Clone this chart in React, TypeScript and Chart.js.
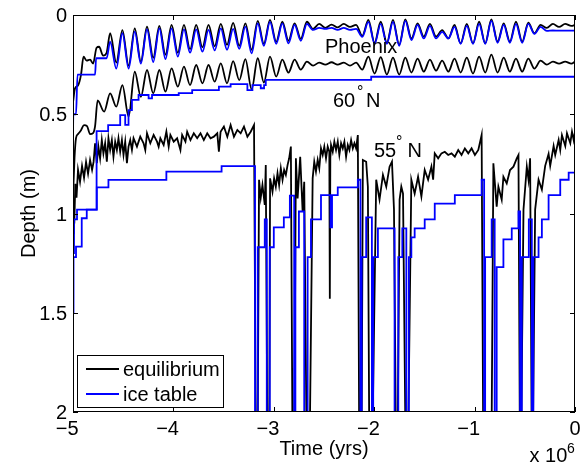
import React, { useEffect, useRef } from 'react';
import { Chart, registerables } from 'chart.js';

Chart.register(...registerables);

const FONT = "'Liberation Sans', Arial, Helvetica, sans-serif";

// ---- axes ----
const xTickValues = [-5, -4, -3, -2, -1, 0];
const xTickLabels = ['\u22125', '\u22124', '\u22123', '\u22122', '\u22121', '0'];
const yTickValues = [0, 0.5, 1, 1.5, 2];
const yTickLabels = ['0', '0.5', '1', '1.5', '2'];

// ---- shared time samples (x 10^6 yrs) for the oscillating curves ----
const gridTime = [
  -4.630, -4.569, -4.508, -4.446, -4.385, -4.324, -4.263, -4.201, -4.140, -4.079,
  -4.018, -3.956, -3.895, -3.834, -3.773, -3.711, -3.650, -3.589, -3.528, -3.466,
  -3.405, -3.344, -3.283, -3.221, -3.160, -3.099, -3.038, -2.976, -2.915, -2.854,
  -2.793, -2.731, -2.670, -2.609, -2.548, -2.486, -2.425, -2.364, -2.303, -2.241,
  -2.180, -2.119, -2.058, -1.996, -1.935, -1.874, -1.813, -1.751, -1.690, -1.629,
  -1.568, -1.506, -1.445, -1.384, -1.323, -1.261, -1.200, -1.139, -1.078, -1.016,
  -0.955, -0.894, -0.833, -0.771, -0.710, -0.649, -0.588, -0.526, -0.465, -0.404,
  -0.343, -0.281, -0.220, -0.159, -0.098, -0.036, 0.000,
];

// ---- Phoenix ----
const phoenixEqPreTime = [-5.0, -4.98, -4.95, -4.92, -4.895, -4.865, -4.83, -4.80, -4.765, -4.74, -4.70, -4.665];
const phoenixEqPreDepth = [0.44, 0.37, 0.355, 0.30, 0.21, 0.23, 0.225, 0.245, 0.165, 0.16, 0.205, 0.19];
const phoenixEqDepth = [
  0.092, 0.24, 0.076, 0.255, 0.067, 0.235, 0.059, 0.215, 0.055, 0.20,
  0.05, 0.19, 0.05, 0.172, 0.05, 0.163, 0.05, 0.158, 0.045, 0.15,
  0.04, 0.155, 0.042, 0.175, 0.03, 0.145, 0.025, 0.135, 0.034, 0.13,
  0.042, 0.12, 0.034, 0.07, 0.045, 0.065, 0.048, 0.062, 0.045, 0.06,
  0.05, 0.105, 0.025, 0.14, 0.034, 0.14, 0.025, 0.15, 0.022, 0.118,
  0.042, 0.109, 0.045, 0.109, 0.076, 0.118, 0.05, 0.143, 0.045, 0.143,
  0.034, 0.143, 0.022, 0.134, 0.042, 0.134, 0.034, 0.134, 0.039, 0.092,
  0.05, 0.065, 0.045, 0.06, 0.045, 0.055, 0.05,
];
const phoenixIcePreTime = [-5.0, -4.997, -4.97, -4.955, -4.78, -4.77, -4.665];
const phoenixIcePreDepth = [0.60, 0.50, 0.50, 0.30, 0.30, 0.218, 0.218];
const phoenixIceDepth = [
  0.134, 0.27, 0.092, 0.27, 0.084, 0.245, 0.072, 0.237, 0.067, 0.222,
  0.067, 0.21, 0.072, 0.19, 0.072, 0.185, 0.075, 0.178, 0.067, 0.175,
  0.07, 0.17, 0.059, 0.193, 0.042, 0.155, 0.035, 0.145, 0.042, 0.143,
  0.05, 0.13, 0.045, 0.075, 0.065, 0.07, 0.065, 0.075, 0.065, 0.075,
  0.07, 0.11, 0.035, 0.145, 0.045, 0.145, 0.035, 0.155, 0.03, 0.126,
  0.05, 0.118, 0.055, 0.118, 0.085, 0.118, 0.06, 0.145, 0.055, 0.145,
  0.045, 0.145, 0.03, 0.14, 0.05, 0.14, 0.045, 0.14, 0.045, 0.095,
  0.06, 0.08, 0.078, 0.079, 0.079, 0.079, 0.078,
];

// ---- 60 N ----
const n60EqPreTime = [-5.0, -4.985, -4.97, -4.95, -4.92, -4.89, -4.86, -4.83, -4.80, -4.78, -4.755, -4.69];
const n60EqPreDepth = [0.92, 0.72, 0.62, 0.60, 0.58, 0.555, 0.56, 0.60, 0.595, 0.56, 0.43, 0.487];
const n60EqDepth = [
  0.395, 0.462, 0.353, 0.512, 0.286, 0.412, 0.277, 0.395, 0.277, 0.386,
  0.269, 0.361, 0.26, 0.353, 0.252, 0.344, 0.252, 0.336, 0.244, 0.344,
  0.232, 0.328, 0.222, 0.375, 0.218, 0.34, 0.21, 0.31, 0.225, 0.29,
  0.225, 0.275, 0.235, 0.255, 0.24, 0.25, 0.238, 0.25, 0.24, 0.255,
  0.24, 0.275, 0.21, 0.295, 0.212, 0.3, 0.215, 0.3, 0.215, 0.29,
  0.22, 0.285, 0.225, 0.28, 0.23, 0.285, 0.22, 0.29, 0.215, 0.295,
  0.21, 0.29, 0.2, 0.29, 0.215, 0.285, 0.22, 0.285, 0.22, 0.27,
  0.23, 0.25, 0.235, 0.245, 0.235, 0.245, 0.235,
];
const n60IceTime = [
  -5.0, -4.99, -4.96, -4.765, -4.65, -4.53, -4.48, -4.447, -4.413, -4.347,
  -4.247, -4.213, -3.947, -3.813, -3.547, -3.43, -3.263, -3.213, -3.13, -3.097,
  -3.08, -2.03, 0.0,
];
const n60IceDepth = [
  1.2, 1.03, 0.98, 0.585, 0.555, 0.504, 0.554, 0.479, 0.428, 0.403,
  0.42, 0.403, 0.394, 0.378, 0.361, 0.348, 0.378, 0.353, 0.369, 0.353,
  0.327, 0.311, 0.311,
];

// ---- 55 N ----
const n55EqTime = [
  -5.0, -4.993, -4.987, -4.977, -4.965, -4.95, -4.93, -4.91, -4.89, -4.87, -4.85, -4.83, -4.81, -4.795,
  -4.78, -4.763, -4.747, -4.73, -4.713, -4.697, -4.68, -4.663, -4.647, -4.63, -4.613, -4.597, -4.58,
  -4.563, -4.547, -4.53, -4.513, -4.497, -4.48, -4.463, -4.447, -4.43, -4.413, -4.397, -4.363, -4.33,
  -4.297, -4.28, -4.263, -4.23, -4.197, -4.163, -4.147, -4.13, -4.097, -4.07, -4.047, -4.03, -3.997,
  -3.963, -3.93, -3.913, -3.88, -3.863, -3.83, -3.797, -3.763, -3.73, -3.697, -3.663, -3.63, -3.597,
  -3.563, -3.547, -3.53, -3.497, -3.463, -3.43, -3.397, -3.363, -3.33, -3.297, -3.263, -3.23, -3.197,
  -3.18, -3.16, -3.147, -3.13, -3.113, -3.09, -3.08, -3.065,
  -3.045, -3.037, -3.013, -2.997, -2.98, -2.963, -2.947, -2.93, -2.913, -2.897, -2.88, -2.863, -2.847, -2.83, -2.815,
  -2.795, -2.78, -2.763, -2.737, -2.713, -2.697, -2.675,
  -2.64, -2.613, -2.597, -2.58, -2.563, -2.547, -2.53, -2.513, -2.497, -2.48, -2.463, -2.447, -2.442, -2.437,
  -2.43, -2.413, -2.397, -2.38, -2.363, -2.347, -2.33, -2.313, -2.297, -2.28, -2.263, -2.247, -2.23, -2.213,
  -2.197, -2.18, -2.163, -2.15,
  -2.125, -2.113, -2.08, -2.063, -2.05,
  -2.015, -1.98, -1.947, -1.913, -1.88, -1.847, -1.823, -1.803, -1.785,
  -1.765, -1.747, -1.73, -1.713, -1.69,
  -1.66, -1.63, -1.597, -1.563, -1.53, -1.497, -1.463, -1.43, -1.413, -1.397, -1.363, -1.33, -1.297, -1.263,
  -1.23, -1.197, -1.163, -1.13, -1.097, -1.063, -1.03, -0.997, -0.963, -0.93, -0.915,
  -0.83, -0.813, -0.78, -0.763, -0.73, -0.713, -0.68, -0.647, -0.613, -0.58, -0.563, -0.55,
  -0.535, -0.513, -0.48, -0.463, -0.447, -0.432,
  -0.418, -0.397, -0.363, -0.33, -0.297, -0.263, -0.247, -0.213, -0.197, -0.163, -0.147, -0.13, -0.097,
  -0.08, -0.047, -0.03, -0.013, 0.0,
];
const n55EqDepth = [
  1.1, 0.95, 1.05, 0.85, 0.92, 0.78, 0.84, 0.76, 0.82, 0.74, 0.80, 0.73, 0.78, 0.74,
  0.646, 0.747, 0.663, 0.722, 0.63, 0.697, 0.646, 0.739, 0.621, 0.68, 0.63, 0.714, 0.638,
  0.68, 0.621, 0.688, 0.63, 0.705, 0.638, 0.747, 0.663, 0.63, 0.68, 0.621, 0.663, 0.613,
  0.646, 0.68, 0.596, 0.646, 0.604, 0.638, 0.663, 0.621, 0.655, 0.588, 0.663, 0.604, 0.638,
  0.621, 0.68, 0.604, 0.638, 0.588, 0.63, 0.596, 0.621, 0.596, 0.63, 0.596, 0.621, 0.613,
  0.596, 0.688, 0.588, 0.562, 0.613, 0.554, 0.613, 0.579, 0.596, 0.562, 0.613, 0.588, 0.554,
  2.05, 2.05, 0.83, 0.92, 0.856, 0.957, 0.756, 2.05,
  2.05, 0.823, 0.89, 0.823, 0.865, 0.798, 0.856, 0.772, 0.831, 0.781, 0.806, 0.756, 0.722, 0.663, 2.05,
  2.05, 0.722, 0.924, 0.714, 0.99, 0.84, 2.05,
  2.05, 0.823, 0.739, 0.789, 0.73, 0.772, 0.672, 0.705, 0.663, 0.722, 0.663, 0.689, 1.43, 0.72,
  0.655, 0.689, 0.638, 0.68, 0.638, 0.705, 0.646, 0.672, 0.638, 0.714, 0.655, 0.68, 0.63, 0.672,
  0.646, 0.672, 0.605, 2.05,
  2.05, 0.73, 0.739, 0.865, 2.05,
  2.05, 0.83, 0.93, 0.806, 0.865, 0.764, 0.739, 0.98, 2.05,
  2.05, 0.93, 0.865, 0.9, 2.05,
  2.05, 0.83, 0.9, 0.815, 0.915, 0.781, 0.83, 0.764, 0.83, 0.697, 0.722, 0.697, 0.689, 0.705,
  0.697, 0.714, 0.68, 0.705, 0.672, 0.697, 0.672, 0.705, 0.68, 0.605, 2.05,
  2.05, 0.747, 0.966, 0.865, 0.93, 0.815, 0.848, 0.781, 0.764, 0.722, 0.705, 2.05,
  2.05, 0.98, 0.764, 0.83, 0.722, 2.05,
  2.05, 0.98, 0.83, 0.88, 0.76, 0.70, 0.76, 0.66, 0.705, 0.63, 0.68, 0.605, 0.66,
  0.596, 0.646, 0.588, 0.63, 0.59,
];
const n55IceTime = [
  -5.0, -4.995, -4.97, -4.913, -4.863, -4.763, -4.647, -4.07, -3.52, -3.187,
  -3.16, -3.09, -3.07, -3.04, -3.0, -2.90, -2.84, -2.797, -2.785, -2.75,
  -2.697, -2.663, -2.63, -2.53, -2.435, -2.42, -2.363, -2.163, -2.137, -2.125,
  -2.08, -2.023, -2.01, -1.963, -1.797, -1.76, -1.72, -1.68, -1.655, -1.63,
  -1.597, -1.497, -1.397, -1.197, -0.93, -0.905, -0.895, -0.83, -0.80, -0.78,
  -0.713, -0.63, -0.563, -0.547, -0.53, -0.46, -0.43, -0.415, -0.363, -0.33,
  -0.263, -0.147, -0.063, 0.0,
];
const n55IceDepth = [
  1.5, 1.22, 1.167, 1.024, 0.98, 0.868, 0.831, 0.789, 0.761, 2.05,
  1.17, 1.03, 2.05, 1.17, 1.07, 1.02, 0.91, 2.05, 1.17, 0.99,
  2.05, 1.22, 1.03, 0.907, 1.07, 0.907, 0.868, 0.83, 2.05, 1.22,
  1.02, 2.05, 1.22, 1.075, 2.05, 1.22, 1.075, 2.05, 1.22, 1.12,
  1.075, 1.03, 0.95, 0.907, 0.83, 2.05, 1.22, 1.03, 2.05, 1.27,
  1.13, 1.075, 0.99, 2.05, 1.22, 1.03, 2.05, 1.22, 1.12, 1.03,
  0.907, 0.83, 0.794, 0.794,
];

const legendLabels = ['equilibrium', 'ice table'];
const seriesColors = { eq: '#000000', ice: '#0000ff' };

function toPoints(ts: number[], ds: number[]) {
  return ts.map((t, i) => ({ x: t, y: ds[i] }));
}

const overlayPlugin = {
  id: 'overlay',
  afterDatasetsDraw(chart: any) {
    const { ctx, chartArea: a, scales } = chart;
    const xs = scales.x;
    const ys = scales.y;
    ctx.save();
    ctx.strokeStyle = '#000';
    ctx.lineWidth = 1;
    ctx.strokeRect(a.left + 0.5, a.top + 0.5, a.right - a.left - 1, a.bottom - a.top - 1);
    const tl = 5;
    ctx.beginPath();
    xTickValues.forEach((v) => {
      const px = Math.round(xs.getPixelForValue(v)) + 0.5;
      ctx.moveTo(px, a.bottom);
      ctx.lineTo(px, a.bottom - tl);
      ctx.moveTo(px, a.top);
      ctx.lineTo(px, a.top + tl);
    });
    yTickValues.forEach((v) => {
      const py = Math.round(ys.getPixelForValue(v)) + 0.5;
      ctx.moveTo(a.left, py);
      ctx.lineTo(a.left + tl, py);
      ctx.moveTo(a.right, py);
      ctx.lineTo(a.right - tl, py);
    });
    ctx.stroke();

    ctx.fillStyle = '#000';
    ctx.font = `20px ${FONT}`;
    ctx.textBaseline = 'alphabetic';
    xTickValues.forEach((v, i) => {
      const px = xs.getPixelForValue(v);
      const lab = xTickLabels[i];
      const w = ctx.measureText(lab.replace('\u2212', '')).width;
      ctx.textAlign = 'right';
      ctx.fillText(lab, px + w / 2, a.bottom + 23);
    });
    ctx.textAlign = 'right';
    yTickValues.forEach((v, i) => {
      const py = ys.getPixelForValue(v);
      ctx.fillText(yTickLabels[i], a.left - 6, py + 7);
    });
    ctx.textAlign = 'center';
    ctx.fillText('Time (yrs)', (a.left + a.right) / 2, 455);
    ctx.save();
    ctx.translate(35, (a.top + a.bottom) / 2);
    ctx.rotate(-Math.PI / 2);
    ctx.fillText('Depth (m)', 0, 0);
    ctx.restore();
    ctx.textAlign = 'left';
    ctx.fillText('x 10', 529.5, 462);
    ctx.font = `14px ${FONT}`;
    ctx.fillText('6', 567, 453);

    ctx.font = `20px ${FONT}`;
    ctx.fillText('Phoenix', 325, 53);
    ctx.fillText('60', 333, 107);
    ctx.fillText('N', 366, 107);
    ctx.fillText('55', 374, 157);
    ctx.fillText('N', 407.5, 157);
    ctx.font = `16px ${FONT}`;
    ctx.fillText('\u00b0', 357, 97);
    ctx.fillText('\u00b0', 396, 147);

    const lx = 77.5, ly = 355.5, lw = 146, lh = 52;
    ctx.fillStyle = '#fff';
    ctx.fillRect(lx, ly, lw, lh);
    ctx.strokeStyle = '#000';
    ctx.lineWidth = 1;
    ctx.strokeRect(lx, ly, lw, lh);
    const rows = [369, 394];
    const cols = [seriesColors.eq, seriesColors.ice];
    rows.forEach((ry, i) => {
      ctx.strokeStyle = cols[i];
      ctx.lineWidth = 1.8;
      ctx.beginPath();
      ctx.moveTo(86, ry);
      ctx.lineTo(119, ry);
      ctx.stroke();
      ctx.fillStyle = '#000';
      ctx.font = `20px ${FONT}`;
      ctx.textAlign = 'left';
      ctx.fillText(legendLabels[i], 123, ry + 7);
    });
    ctx.restore();
  },
};

export default function App() {
  const canvasRef = useRef<HTMLCanvasElement | null>(null);

  useEffect(() => {
    const canvas = canvasRef.current;
    if (!canvas) return;
    const lineBase = {
      pointRadius: 0,
      borderWidth: 1.8,
      fill: false,
    };
    const chart = new Chart(canvas, {
      type: 'line',
      data: {
        datasets: [
          {
            ...lineBase,
            label: 'Phoenix ice table',
            borderColor: seriesColors.ice,
            cubicInterpolationMode: 'monotone',
            data: toPoints([...phoenixIcePreTime, ...gridTime], [...phoenixIcePreDepth, ...phoenixIceDepth]),
          },
          {
            ...lineBase,
            label: '60N ice table',
            borderColor: seriesColors.ice,
            stepped: 'before',
            data: toPoints(n60IceTime, n60IceDepth),
          },
          {
            ...lineBase,
            label: '55N ice table',
            borderColor: seriesColors.ice,
            stepped: 'before',
            data: toPoints(n55IceTime, n55IceDepth),
          },
          {
            ...lineBase,
            label: 'Phoenix equilibrium',
            borderColor: seriesColors.eq,
            cubicInterpolationMode: 'monotone',
            data: toPoints([...phoenixEqPreTime, ...gridTime], [...phoenixEqPreDepth, ...phoenixEqDepth]),
          },
          {
            ...lineBase,
            label: '60N equilibrium',
            borderColor: seriesColors.eq,
            cubicInterpolationMode: 'monotone',
            data: toPoints([...n60EqPreTime, ...gridTime], [...n60EqPreDepth, ...n60EqDepth]),
          },
          {
            ...lineBase,
            label: '55N equilibrium',
            borderColor: seriesColors.eq,
            data: toPoints(n55EqTime, n55EqDepth),
          },
        ] as any,
      },
      options: {
        responsive: false,
        animation: false,
        devicePixelRatio: 1,
        layout: { padding: { left: 73, right: 8, top: 15, bottom: 54 } },
        scales: {
          x: { type: 'linear', min: -5, max: 0, display: false },
          y: { type: 'linear', min: 0, max: 2, reverse: true, display: false },
        },
        plugins: {
          legend: { display: false },
          tooltip: { enabled: false },
        },
        events: [],
      } as any,
      plugins: [overlayPlugin],
    });
    return () => chart.destroy();
  }, []);

  return (
    <div style={{ position: 'fixed', left: 0, top: 0, width: 583, height: 466, background: '#fff' }}>
      <canvas ref={canvasRef} width={583} height={466} style={{ display: 'block' }} />
    </div>
  );
}
